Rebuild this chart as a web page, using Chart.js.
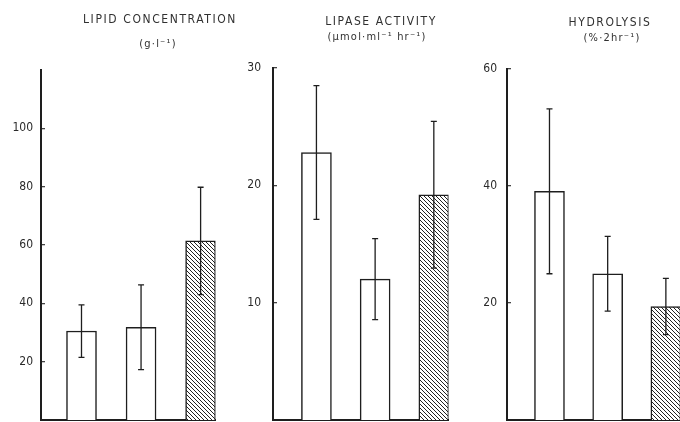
<!DOCTYPE html>
<html>
<head>
<meta charset="utf-8">
<script src="https://cdn.jsdelivr.net/npm/chart.js@4.4.0/dist/chart.umd.min.js"></script>
<style>
  html, body { margin: 0; padding: 0; background: #fff; overflow: hidden; }
  #wrap { position: relative; width: 680px; height: 422px; overflow: hidden; }
  #wrap canvas { position: absolute; top: 0; }
  .ttl { position: absolute; transform: translate(-50%, -50%); white-space: nowrap;
         font-family: "DejaVu Sans Condensed", "DejaVu Sans", sans-serif; color: #303030; }
  .l1 { font-size: 12px; letter-spacing: 1.6px; }
  .l2 { font-size: 11px; letter-spacing: 1.2px; }
</style>
</head>
<body>
<div id="wrap">
  <canvas id="lipid" width="230" height="422" style="left:0px"></canvas>
  <canvas id="lipase" width="230" height="422" style="left:232px"></canvas>
  <canvas id="hydro" width="230" height="422" style="left:466px"></canvas>

  <div class="ttl l1" style="left:160px; top:19px">LIPID CONCENTRATION</div>
  <div class="ttl l2" style="left:158px; top:43px">(g·l⁻¹)</div>
  <div class="ttl l1" style="left:381px; top:21px">LIPASE ACTIVITY</div>
  <div class="ttl l2" style="left:377px; top:36px">(µmol·ml⁻¹ hr⁻¹)</div>
  <div class="ttl l1" style="left:610px; top:22px">HYDROLYSIS</div>
  <div class="ttl l2" style="left:612px; top:37px">(%·2hr⁻¹)</div>
</div>
<script>
// three groups per panel (not labelled in the figure), last one hatched
const groups = [1, 2, 3];

const lipidMean = [30.5, 31.8, 61.4];
const lipidErr = [9, 14.5, 18.4];
const lipidTicks = [20, 40, 60, 80, 100];

const lipaseMean = [22.8, 12.0, 19.2];
const lipaseErr = [5.7, 3.45, 6.25];
const lipaseTicks = [10, 20, 30];

const hydroMean = [39.1, 25.0, 19.4];
const hydroErr = [14.1, 6.4, 4.8];
const hydroTicks = [20, 40, 60];

const ink = '#1e1e1e';

// diagonal hatch for the third bar
function makeHatch() {
    const s = 4;
    const c = document.createElement('canvas');
    c.width = s; c.height = s;
    const g = c.getContext('2d');
    g.fillStyle = '#fff';
    g.fillRect(0, 0, s, s);
    g.strokeStyle = '#222';
    g.lineWidth = 1;
    g.beginPath();
    [-s, 0, s].forEach(k => {
        g.moveTo(k, 0);
        g.lineTo(k + s, s);
    });
    g.stroke();
    return g.createPattern(c, 'repeat');
}
const hatch = makeHatch();

const errorBars = {
    id: 'errorBars',
    afterDatasetsDraw(chart, args, opts) {
        const ctx = chart.ctx;
        const y = chart.scales.y;
        const means = chart.data.datasets[0].data.map(d => d.y);
        ctx.save();
        ctx.strokeStyle = ink;
        ctx.lineWidth = 1.3;
        chart.getDatasetMeta(0).data.forEach((bar, i) => {
            const top = y.getPixelForValue(means[i] + opts.errs[i]);
            const bot = y.getPixelForValue(means[i] - opts.errs[i]);
            ctx.beginPath();
            ctx.moveTo(bar.x, top); ctx.lineTo(bar.x, bot);
            ctx.moveTo(bar.x - 3, top); ctx.lineTo(bar.x + 3, top);
            ctx.moveTo(bar.x - 3, bot); ctx.lineTo(bar.x + 3, bot);
            ctx.stroke();
        });
        ctx.restore();
    }
};

function makePanel(id, means, errs, ticks, yMax, xMin, xMax, padTop, padRight, labelPad) {
    return new Chart(document.getElementById(id), {
        type: 'bar',
        data: {
            datasets: [{
                data: groups.map((g, i) => ({ x: g, y: means[i] })),
                backgroundColor: ['#fff', '#fff', hatch],
                borderColor: ink,
                borderWidth: 1.5,
                borderSkipped: 'bottom',
                barThickness: 30
            }]
        },
        options: {
            responsive: false,
            animation: false,
            layout: { padding: { top: padTop, right: padRight, bottom: 2, left: 0 } },
            plugins: {
                legend: { display: false },
                tooltip: { enabled: false },
                errorBars: { errs: errs }
            },
            scales: {
                x: {
                    type: 'linear',
                    offset: false,
                    min: xMin,
                    max: xMax,
                    ticks: { display: false },
                    grid: { drawOnChartArea: false, drawTicks: false },
                    border: { display: true, color: ink, width: 2 },
                    afterFit: s => { s.height = 0; s.paddingLeft = 0; s.paddingRight = 0; }
                },
                y: {
                    min: 0,
                    max: yMax,
                    afterBuildTicks: s => { s.ticks = ticks.map(v => ({ value: v })); },
                    afterFit: s => { s.width = 41; s.paddingTop = 0; s.paddingBottom = 0; },
                    ticks: {
                        padding: labelPad,
                        color: '#2a2a2a',
                        font: { family: '"DejaVu Sans Condensed", "DejaVu Sans", sans-serif', size: 12 }
                    },
                    // negative length -> tick marks point into the plot, as in the figure
                    grid: { drawOnChartArea: false, drawTicks: true, tickLength: -4, color: '#444', lineWidth: 1.3 },
                    border: { display: true, color: ink, width: 2 }
                }
            }
        },
        plugins: [errorBars]
    });
}

makePanel('lipid', lipidMean, lipidErr, lipidTicks, 120, 0.32, 3.25, 70, 14.5, 12);
makePanel('lipase', lipaseMean, lipaseErr, lipaseTicks, 30, 0.26, 3.25, 68, 13.5, 16);
makePanel('hydro', hydroMean, hydroErr, hydroTicks, 60, 0.27, 3.26, 69, 15, 14);
</script>
</body>
</html>
